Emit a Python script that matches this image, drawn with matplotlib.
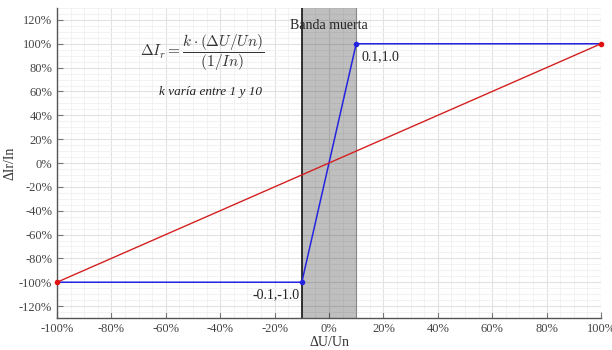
import matplotlib
matplotlib.use("Agg")
import matplotlib.pyplot as plt
from matplotlib.ticker import MultipleLocator, PercentFormatter

# Characteristic data
du_char = [-1.0, -0.1, 0.1, 1.0]      # ΔU/Un
di_char = [-1.0, -1.0, 1.0, 1.0]      # ΔIr/In
du_lin = [-1.0, 1.0]
di_lin = [-1.0, 1.0]
band = [-0.1, 0.1]

plt.rcParams["font.family"] = ["Liberation Serif", "DejaVu Serif"]
plt.rcParams["mathtext.fontset"] = "cm"
plt.rcParams["axes.unicode_minus"] = False

fig = plt.figure(figsize=(6.12, 3.5), dpi=100)
ax = fig.add_axes([57 / 612, 32 / 350, 544 / 612, 310 / 350])

ax.set_xlim(-1.0, 1.0)
ax.set_ylim(-1.3, 1.3)

ax.xaxis.set_major_locator(MultipleLocator(0.2))
ax.xaxis.set_minor_locator(MultipleLocator(0.05))
ax.yaxis.set_major_locator(MultipleLocator(0.2))
ax.yaxis.set_minor_locator(MultipleLocator(0.05))
ax.xaxis.set_major_formatter(PercentFormatter(1.0, decimals=0))
ax.yaxis.set_major_formatter(PercentFormatter(1.0, decimals=0))

ax.grid(which="major", color="#e2e2e2", lw=0.8)
ax.grid(which="minor", color="#f0f0f0", lw=0.6)
ax.set_axisbelow(True)

for s in ("top", "right"):
    ax.spines[s].set_visible(False)
for s in ("left", "bottom"):
    ax.spines[s].set_color("#555555")
    ax.spines[s].set_linewidth(1.0)

ax.tick_params(which="major", direction="in", length=4, width=0.8,
               color="#777777", labelsize=9, labelcolor="#444444")
ax.tick_params(which="minor", length=0)

# Dead band
ax.axvspan(band[0], band[1], color="black", alpha=0.25, lw=0, zorder=1)
ax.axvline(band[0], color="#222222", lw=1.3, zorder=2)
ax.axvline(band[1], color="#888888", lw=0.8, zorder=2)

ax.plot(du_char, di_char, color="#2424e0", lw=1.1, zorder=3)
ax.plot(du_char[1:3], di_char[1:3], "o", color="#2424e0", ms=3, zorder=4)
ax.plot(du_lin, di_lin, color="#d42020", lw=1.0, zorder=5)
ax.plot(du_lin, di_lin, "o", color="#e01010", ms=3, zorder=6, clip_on=False)

ax.text(band[1] + 0.02, di_char[2] - 0.05, f"{du_char[2]:.1f},{di_char[2]:.1f}",
        fontsize=10, ha="left", va="top", color="#222222")
ax.text(band[0] - 0.008, di_char[1] - 0.05, f"{du_char[1]:.1f},{di_char[1]:.1f}",
        fontsize=10, ha="right", va="top", color="#222222")
ax.text(0.0, 1.155, "Banda muerta", fontsize=10, ha="center", va="center",
        color="#222222")

ax.text(-0.465, 0.93, r"$\Delta I_r = \dfrac{k \cdot (\Delta U/Un)}{(1/In)}$",
        fontsize=11, ha="center", va="center", color="#333333")
ax.text(-0.435, 0.595, "k varía entre 1 y 10", fontsize=9.5, style="italic",
        ha="center", va="center", color="#222222")

ax.set_xlabel("ΔU/Un", fontsize=10, color="#333333", labelpad=1)
ax.set_ylabel("ΔIr/In", fontsize=10, color="#333333", labelpad=2)

fig.savefig("out.png", dpi=100, facecolor="white")
